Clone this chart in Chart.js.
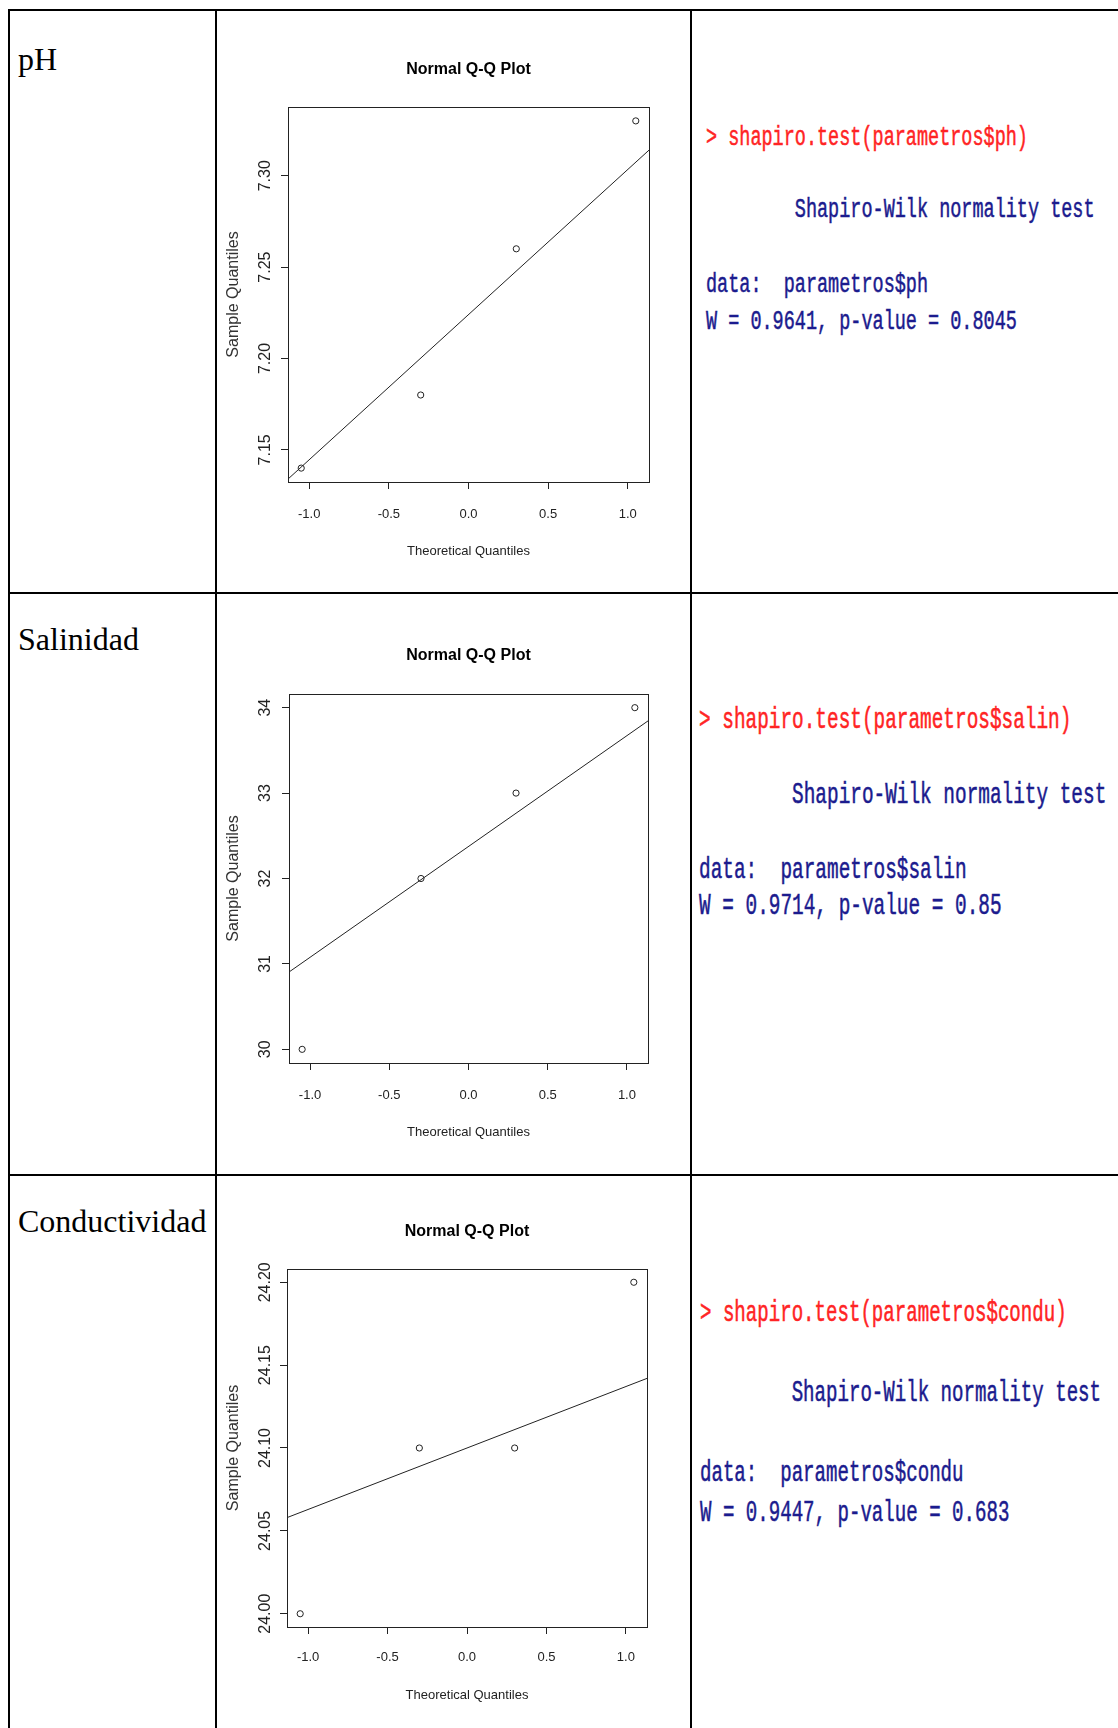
<!DOCTYPE html>
<html>
<head>
<meta charset="utf-8">
<script src="https://cdn.jsdelivr.net/npm/chart.js@4/dist/chart.umd.min.js"></script>
<style>
  body { margin: 0; width: 1118px; height: 1728px; overflow: hidden; background: #fff; position: relative; }
  .rule { position: absolute; background: #000; }
  .rowlabel { position: absolute; left: 18px; font-family: "Liberation Serif", "Times New Roman", serif; font-size: 32px; line-height: 32px; color: #000; }
  .rout { position: absolute; font-family: "Liberation Mono", "Courier New", monospace; white-space: pre; transform: scaleY(1.5); transform-origin: left center; -webkit-text-stroke: 0.35px currentColor; }
  canvas { position: absolute; left: 217px; }
</style>
</head>
<body>
<div class="rule" style="left:8px;top:9px;width:1110px;height:2px"></div>
<div class="rule" style="left:8px;top:592px;width:1110px;height:2px"></div>
<div class="rule" style="left:8px;top:1174px;width:1110px;height:2px"></div>
<div class="rule" style="left:8px;top:9px;width:2px;height:1719px"></div>
<div class="rule" style="left:215px;top:9px;width:2px;height:1719px"></div>
<div class="rule" style="left:690px;top:9px;width:2px;height:1719px"></div>

<div class="rowlabel" style="top:43px">pH</div>
<div class="rowlabel" style="top:623px">Salinidad</div>
<div class="rowlabel" style="top:1205px">Conductividad</div>

<canvas id="qq-ph" width="473" height="581" style="top:11px"></canvas>
<canvas id="qq-salin" width="473" height="580" style="top:594px"></canvas>
<canvas id="qq-condu" width="473" height="552" style="top:1176px"></canvas>

<div id="console-out"></div>

<script>
// theoretical quantiles (x) shared by all three plots
var theoQuantiles = [-1.05, -0.30, 0.30, 1.05];
var xTicks = [-1.0, -0.5, 0.0, 0.5, 1.0];
var xRange = [-1.133, 1.133];

// pH
var phValues = [7.14, 7.18, 7.26, 7.33];
var phTicks = [7.15, 7.20, 7.25, 7.30];
var phRange = [7.1324, 7.3376];
var phLine = [7.134, 7.314];

// Salinidad
var salinValues = [30, 32, 33, 34];
var salinTicks = [30, 31, 32, 33, 34];
var salinRange = [29.84, 34.16];
var salinLine = [30.905, 33.845];

// Conductividad
var conduValues = [24.00, 24.10, 24.10, 24.20];
var conduTicks = [24.00, 24.05, 24.10, 24.15, 24.20];
var conduRange = [23.992, 24.208];
var conduLine = [24.058, 24.142];

// console text next to each plot
var consoleRows = [
    { x: 706, size: 18.5, ys: [137, 209, 284, 321],
      lines: ["> shapiro.test(parametros$ph)", "        Shapiro-Wilk normality test", "data:  parametros$ph", "W = 0.9641, p-value = 0.8045"] },
    { x: 699, size: 19.4, ys: [720, 795, 870, 906],
      lines: ["> shapiro.test(parametros$salin)", "        Shapiro-Wilk normality test", "data:  parametros$salin", "W = 0.9714, p-value = 0.85"] },
    { x: 700, size: 19.1, ys: [1313, 1393, 1473, 1513],
      lines: ["> shapiro.test(parametros$condu)", "        Shapiro-Wilk normality test", "data:  parametros$condu", "W = 0.9447, p-value = 0.683"] }
];

var out = document.getElementById("console-out");
consoleRows.forEach(function (row) {
    row.lines.forEach(function (txt, i) {
        var d = document.createElement("div");
        d.className = "rout";
        d.textContent = txt;
        d.style.left = row.x + "px";
        d.style.fontSize = row.size + "px";
        d.style.lineHeight = row.size + "px";
        d.style.top = (row.ys[i] - 0.40 * row.size) + "px";
        d.style.color = i === 0 ? "#ff2424" : "#1b1b8e";
        out.appendChild(d);
    });
});

var SANS = "'Liberation Sans', Arial, sans-serif";

// draws the frame round the plot region, like R's box()
var boxPlugin = {
    id: "rbox",
    afterDraw: function (chart) {
        var a = chart.chartArea, ctx = chart.ctx;
        ctx.save();
        ctx.strokeStyle = "#222";
        ctx.lineWidth = 1;
        ctx.strokeRect(Math.round(a.left) + 0.5, Math.round(a.top) + 0.5, Math.round(a.right - a.left), Math.round(a.bottom - a.top));
        ctx.restore();
    }
};

var measureCtx = document.createElement("canvas").getContext("2d");
function widestLabel(labels, font) {
    measureCtx.font = font;
    return Math.max.apply(null, labels.map(function (s) { return measureCtx.measureText(s).width; }));
}

function drawQQ(id, values, yTicks, yRange, lineY, decimals, frame) {
    var canvas = document.getElementById(id);
    var cw = canvas.width, ch = canvas.height;
    var left = 217;
    var titleSize = 16, titleLH = titleSize * 1.2;
    var xFont = 13, xLH = xFont * 1.2;
    var yLabels = yTicks.map(function (v) { return v.toFixed(decimals); });
    var yPad = (frame.left - 266) - 7 - widestLabel(yLabels, "16px " + SANS) / 2;

    var points = theoQuantiles.map(function (q, i) { return { x: q, y: values[i] }; });
    var line = [{ x: xRange[0], y: lineY[0] }, { x: xRange[1], y: lineY[1] }];

    new Chart(canvas.getContext("2d"), {
        type: "scatter",
        data: {
            datasets: [{
                data: points,
                pointStyle: "circle",
                pointRadius: 3.1,
                pointBorderWidth: 1,
                borderColor: "#222",
                backgroundColor: "rgba(0,0,0,0)"
            }, {
                data: line,
                showLine: true,
                pointRadius: 0,
                borderColor: "#222",
                borderWidth: 1
            }]
        },
        options: {
            responsive: false,
            animation: false,
            devicePixelRatio: 1,
            layout: { padding: { left: 0, top: 0, bottom: 0, right: cw - (frame.right - left) } },
            plugins: {
                legend: { display: false },
                tooltip: { enabled: false },
                title: {
                    display: true,
                    fullSize: false,
                    text: "Normal Q-Q Plot",
                    color: "#000",
                    font: { family: SANS, size: titleSize, weight: "bold" },
                    padding: {
                        top: (frame.title - frame.canvasTop) - titleLH / 2,
                        bottom: (frame.top - frame.title) - titleLH / 2
                    }
                }
            },
            scales: {
                x: {
                    type: "linear",
                    min: xRange[0],
                    max: xRange[1],
                    afterBuildTicks: function (s) { s.ticks = xTicks.map(function (v) { return { value: v }; }); },
                    afterFit: function (s) { s.height = ch - (frame.bottom - frame.canvasTop); },
                    grid: { drawOnChartArea: false, tickLength: 7, color: "#222" },
                    border: { display: false },
                    ticks: {
                        autoSkip: false,
                        maxRotation: 0,
                        padding: frame.xLabelGap - 7 - xLH / 2,
                        color: "#222",
                        font: { family: SANS, size: xFont },
                        callback: function (v) { return v.toFixed(1); }
                    },
                    title: {
                        display: true,
                        text: "Theoretical Quantiles",
                        color: "#222",
                        font: { family: SANS, size: xFont },
                        padding: { top: 0, bottom: (ch - (frame.bottom - frame.canvasTop)) - frame.xTitleGap - xLH / 2 }
                    }
                },
                y: {
                    type: "linear",
                    min: yRange[0],
                    max: yRange[1],
                    afterBuildTicks: function (s) { s.ticks = yTicks.map(function (v) { return { value: v }; }); },
                    afterFit: function (s) { s.width = frame.left - left; },
                    grid: { drawOnChartArea: false, tickLength: 7, color: "#222" },
                    border: { display: false },
                    ticks: {
                        autoSkip: false,
                        minRotation: 90,
                        maxRotation: 90,
                        crossAlign: "center",
                        padding: yPad,
                        color: "#222",
                        font: { family: SANS, size: 16 },
                        callback: function (v) { return v.toFixed(decimals); }
                    },
                    title: {
                        display: true,
                        text: "Sample Quantiles",
                        color: "#333",
                        font: { family: SANS, size: 16 },
                        padding: { top: (234 - left) - 9.6, bottom: 0 }
                    }
                }
            }
        },
        plugins: [boxPlugin]
    });
}

drawQQ("qq-ph", phValues, phTicks, phRange, phLine, 2,
    { canvasTop: 11, left: 288, top: 107, right: 649, bottom: 482, title: 70, xLabelGap: 32, xTitleGap: 69 });
drawQQ("qq-salin", salinValues, salinTicks, salinRange, salinLine, 0,
    { canvasTop: 594, left: 289, top: 694, right: 648, bottom: 1063, title: 656, xLabelGap: 32, xTitleGap: 69 });
drawQQ("qq-condu", conduValues, conduTicks, conduRange, conduLine, 2,
    { canvasTop: 1176, left: 287, top: 1269, right: 647, bottom: 1627, title: 1232, xLabelGap: 30, xTitleGap: 68 });
</script>
</body>
</html>
